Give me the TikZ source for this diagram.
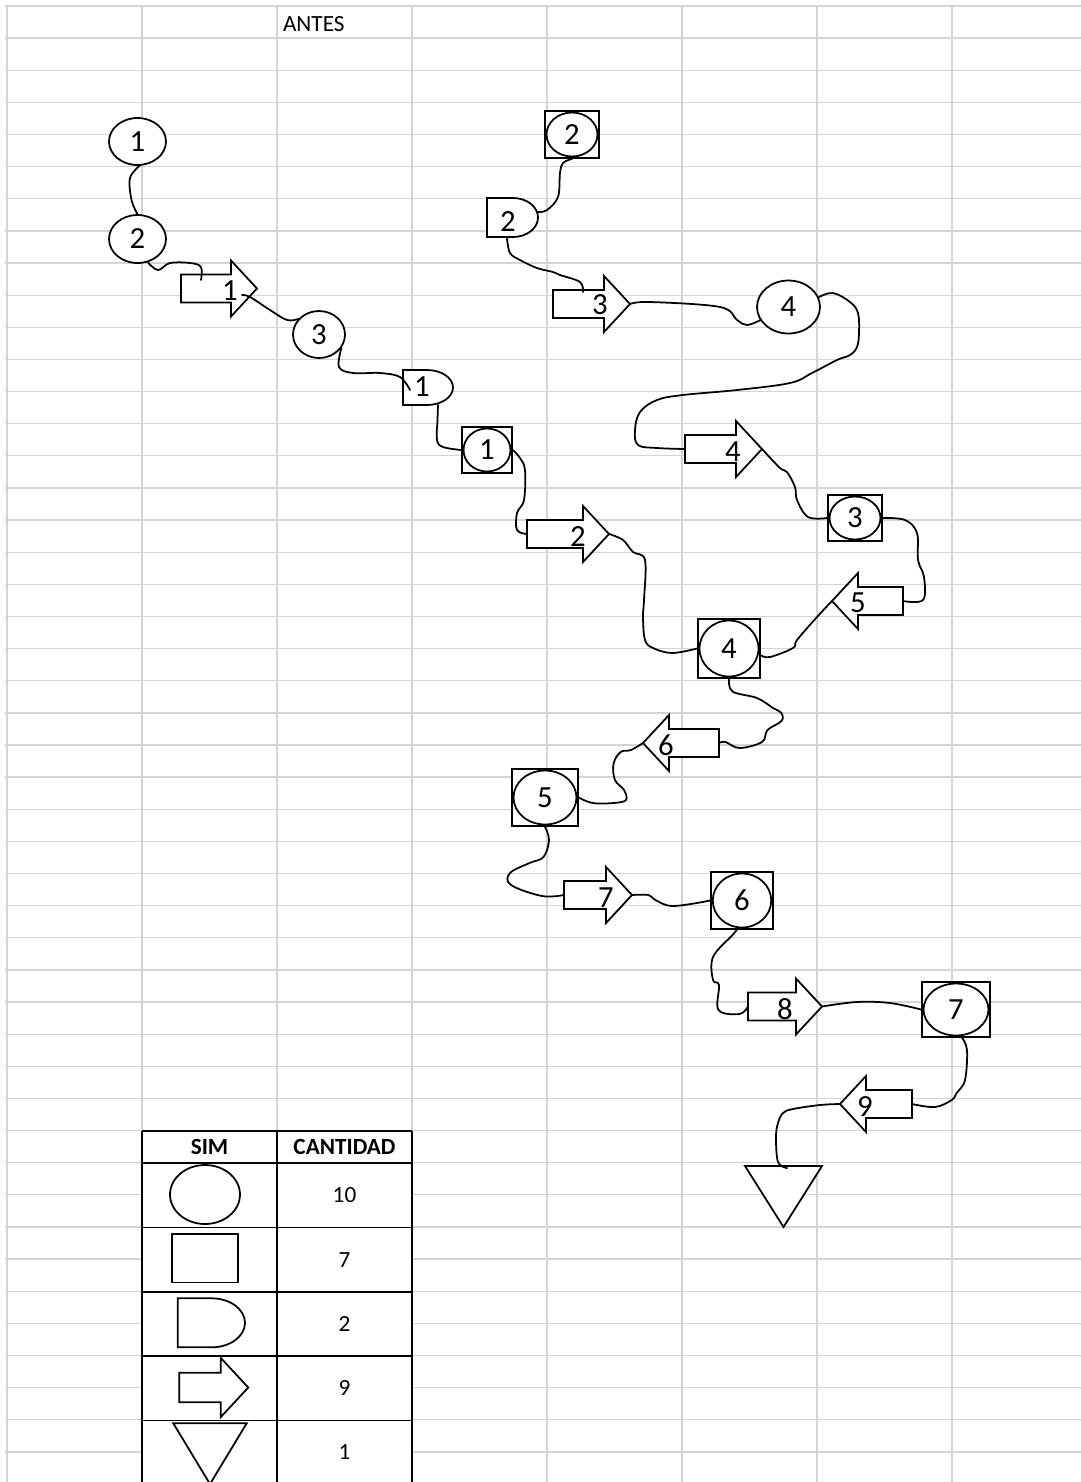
\documentclass[tikz,border=0pt]{standalone}
\usepackage{fontspec}
\setmainfont{Carlito}
\usepackage{tikz}
\usetikzlibrary{shapes.geometric}

\begin{document}
\begin{tikzpicture}[x={(0.02cm,0cm)}, y={(0cm,-0.02cm)},
        rejilla/.style={draw=black!17, line width=0.75pt},
        tabla/.style={draw=black, line width=1pt},
        figura/.style={draw=black, line width=1pt, fill=white},
        circulo/.style={figura, ellipse, inner sep=0pt, font=\fontsize{17.5}{20}\selectfont},
        caja/.style={figura, rectangle, inner sep=0pt},
        conector/.style={line width=1pt, line cap=round, line join=round},
        num/.style={inner sep=0pt, font=\fontsize{17.5}{20}\selectfont},
        celda/.style={inner sep=0pt, font=\fontsize{13.2}{16}\selectfont},
        cabecera/.style={inner sep=0pt, font=\fontsize{13.2}{16}\selectfont\bfseries},
        pics/flecha/.style={code={
            \draw[figura] (-#1/2,-14) -- (#1/2-26,-14) -- (#1/2-26,-28) -- (#1/2,0)
                -- (#1/2-26,28) -- (#1/2-26,14) -- (-#1/2,14) -- cycle;
            \coordinate (-punta) at (#1/2,0);
            \coordinate (-cola) at (-#1/2,0);
        }},
        pics/dforma/.style args={#1/#2/#3}{code={
            \draw[figura] (0,-#2) -- (#1,-#2)
                arc[start angle=-90, end angle=90, x radius=#3, y radius=#2] -- (0,#2) -- cycle;
        }}]
        \useasboundingbox (0,0) rectangle (1081,1482);

        % hoja de calculo
        \foreach \k in {0,...,45}
            \draw[rejilla] (5,{6+32.13*\k}) -- (1081,{6+32.13*\k});
        \foreach \x in {7,142,...,952}
            \draw[rejilla] (\x,6) -- (\x,1482);
        \node[celda, anchor=west] (titulo) at (282.7,24.2) {ANTES};

        % tabla de simbolos
        \fill[white] (142,1131.2) rectangle (412,1482);
        \foreach \y in {1131.2,1163.3,1227.6,1291.9,1356.1,1420.4}
            \draw[tabla] (142,\y) -- (412,\y);
        \foreach \x in {142,277,412}
            \draw[tabla] (\x,1131.2) -- (\x,1482);
        \node[cabecera] (tsim) at (209.5,1147.3) {SIM};
        \node[cabecera] (tcant) at (344.5,1147.3) {CANTIDAD};
        \node[figura, ellipse, minimum width=1.4cm, minimum height=1.18cm] (ley1) at (205,1194.5) {};
        \node[caja, minimum width=1.32cm, minimum height=0.97cm] (ley2) at (205.3,1258.3) {};
        \pic (ley3) at (177.7,1322.8) {dforma=34/24.5/33.3};
        \pic[scale=1.06] (ley4) at (213.8,1387.5) {flecha=65};
        \draw[figura] (173.3,1423.3) -- (246.7,1423.3) -- (210,1484) -- cycle;
        \node[celda] (v1) at (344.5,1195.5) {10};
        \node[celda] (v2) at (344.5,1259.7) {7};
        \node[celda] (v3) at (344.5,1324) {2};
        \node[celda] (v4) at (344.5,1388.3) {9};
        \node[celda] (v5) at (344.5,1452.5) {1};

        % operaciones (circulos)
        \node[circulo, minimum width=1.14cm, minimum height=0.94cm] (c1) at (137.5,141.5) {1};
        \node[circulo, minimum width=1.14cm, minimum height=0.96cm] (c2) at (137.5,239) {2};
        \node[circulo, minimum width=1.04cm, minimum height=0.94cm] (c3) at (319,334.5) {3};
        \node[circulo, minimum width=1.26cm, minimum height=1.06cm] (c4) at (788.5,307) {4};

        % operacion combinada (cuadro con circulo)
        \node[caja, minimum width=1.00cm, minimum height=0.92cm] (s1) at (487,450) {};
        \node[circulo, minimum width=0.94cm, minimum height=0.86cm] (s1c) at (s1) {1};
        \node[caja, minimum width=1.08cm, minimum height=0.94cm] (s2) at (572,134.5) {};
        \node[circulo, minimum width=1.02cm, minimum height=0.88cm] (s2c) at (s2) {2};
        \node[caja, minimum width=1.08cm, minimum height=0.92cm] (s3) at (855,518) {};
        \node[circulo, minimum width=1.02cm, minimum height=0.86cm] (s3c) at (s3) {3};
        \node[caja, minimum width=1.24cm, minimum height=1.18cm] (s4) at (729,648.5) {};
        \node[circulo, minimum width=1.18cm, minimum height=1.12cm] (s4c) at (s4) {4};
        \node[caja, minimum width=1.32cm, minimum height=1.14cm] (s5) at (545,797.5) {};
        \node[circulo, minimum width=1.26cm, minimum height=1.08cm] (s5c) at (s5) {5};
        \node[caja, minimum width=1.23cm, minimum height=1.14cm] (s6) at (742,900.5) {};
        \node[circulo, minimum width=1.17cm, minimum height=1.08cm] (s6c) at (s6) {6};
        \node[caja, minimum width=1.36cm, minimum height=1.10cm] (s7) at (956,1009.5) {};
        \node[circulo, minimum width=1.30cm, minimum height=1.04cm] (s7c) at (s7) {7};

        % demoras
        \pic (d1) at (403,387.5) {dforma=24/17.5/26};
        \pic (d2) at (487,217.5) {dforma=26/19.5/25};
        \node[num] (nd1) at (422,387) {1};
        \node[num] (nd2) at (508,222) {2};

        % transportes
        \pic (f1) at (219,288.5) {flecha=76};
        \pic (f2) at (568,534) {flecha=82};
        \pic (f3) at (591.5,304) {flecha=77};
        \pic (f4) at (723.5,449) {flecha=77};
        \pic[xscale=-1] (f5) at (867.5,601) {flecha=71};
        \pic[xscale=-1] (f6) at (681,743) {flecha=76};
        \pic (f7) at (598,895) {flecha=68};
        \pic (f8) at (785,1006.5) {flecha=74};
        \pic[xscale=-1] (f9) at (876,1104) {flecha=72};
        \node[num] (n1) at (230,291) {1};
        \node[num] (n2) at (578,537) {2};
        \node[num] (n3) at (600,305) {3};
        \node[num] (n4) at (733,452) {4};
        \node[num] (n5) at (858,603) {5};
        \node[num] (n6) at (666,745) {6};
        \node[num] (n7) at (606,898) {7};
        \node[num] (n8) at (785,1009) {8};
        \node[num] (n9) at (865,1107) {9};

        % almacen
        \draw[figura] (745,1166) -- (822,1166) -- (783.5,1227) -- cycle;

        % puntos sueltos de los trazos
        \coordinate (e1) at (201,280);
        \coordinate (x1) at (242,295);
        \coordinate (e3) at (583,292);
        \coordinate (d1e) at (410,390);
        \coordinate (d1s) at (438,405);
        \coordinate (d2s) at (507,238);
        \coordinate (d2e) at (538,212);
        \coordinate (fin) at (787,1168);

        % trazos a mano
        \draw[conector] plot[smooth, tension=0.6] coordinates {(c1.275) (130,178) (131.5,200) (c2.north)};
        \draw[conector] plot[smooth, tension=0.6] coordinates {(c2.294) (158,270) (170,263) (190,263) (201,267) (e1)};
        \draw[conector] plot[smooth, tension=0.6] coordinates {(x1) (250,297) (270,310) (287,320) (c3.143)};
        \draw[conector] plot[smooth, tension=0.6] coordinates {(c3.-31) (339,367) (353,373) (380,373) (400,377) (d1e)};
        \draw[conector] plot[smooth, tension=0.6] coordinates {(d1s) (437.5,420) (437,440) (443,447) (s1.west)};
        \draw[conector] plot[smooth, tension=0.6] coordinates {(s1.east) (520,458) (525,470) (524,500) (517,513) (517,530) (f2-cola)};
        \draw[conector] plot[smooth, tension=0.6] coordinates {(f2-punta) (623,540) (633,552) (645,560) (644,600) (643,617) (645,640) (653,648) (672,653) (s4.west)};
        \draw[conector] plot[smooth, tension=0.6] coordinates {(s4.-12) (770,657) (793,648) (797,640) (817,617) (f5-punta)};
        \draw[conector] plot[smooth, tension=0.6] coordinates {(f5-cola) (923,600) (924,577) (918,560) (917,533) (905,520) (s3.east)};
        \draw[conector] plot[smooth, tension=0.6] coordinates {(f4-punta) (780,468) (787,472) (795,487) (797,500) (808,517) (s3.west)};
        \draw[conector] plot[smooth, tension=0.6] coordinates {(c4.18) (833,293) (850,302) (858,313) (859,333) (857,347) (850,355) (837,360) (812,373) (790,383) (737,390) (683,395) (657,400) (640,412) (635,430) (638,445) (657,448) (f4-cola)};
        \draw[conector] plot[smooth, tension=0.6] coordinates {(f3-punta) (650,302) (720,307) (737,320) (747,325) (c4.205)};
        \draw[conector] plot[smooth, tension=0.6] coordinates {(d2s) (510,253) (520,260) (537,268) (553,272) (560,275) (580,282) (e3)};
        \draw[conector] plot[smooth, tension=0.6] coordinates {(s2.south) (563,163) (560,173) (558,197) (547,210) (d2e)};
        \draw[conector] plot[smooth, tension=0.6] coordinates {(s4.south) (732.5,691.5) (757,698) (773,708) (781.5,713) (781.5,721) (767.5,730) (762,742) (739.5,748) (725.5,742) (f6-cola)};
        \draw[conector] plot[smooth, tension=0.6] coordinates {(f6-punta) (631,750) (620.5,752) (613.5,764) (615,780) (624,790) (626,800) (613.5,803) (592.5,803) (s5.east)};
        \draw[conector] plot[smooth, tension=0.6] coordinates {(s5.south) (549,840) (543.5,857) (529.5,863) (510,873) (511,885) (542,896) (f7-cola)};
        \draw[conector] plot[smooth, tension=0.6] coordinates {(f7-punta) (648.5,895) (655.5,900) (673,906) (s6.west)};
        \draw[conector] plot[smooth, tension=0.6] coordinates {(s6.-100) (732.5,935) (713,957) (713,980) (719,985) (718.5,1010) (739.5,1014) (f8-cola)};
        \draw[conector] plot[smooth, tension=0.6] coordinates {(f8-punta) (857,1002) (890,1003) (s7.west)};
        \draw[conector] plot[smooth, tension=0.6] coordinates {(s7.-78) (967,1050) (965,1080) (956.7,1093) (951.7,1100) (935,1107) (f9-cola)};
        \draw[conector] plot[smooth, tension=0.6] coordinates {(f9-punta) (820,1105) (793,1109) (783,1113) (778,1123) (776,1137) (778,1162) (fin)};
\end{tikzpicture}
\end{document}
